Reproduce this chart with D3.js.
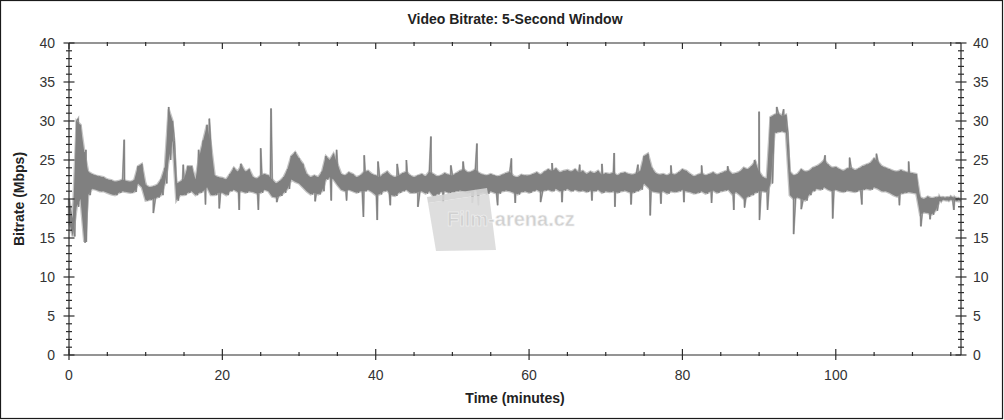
<!DOCTYPE html>
<html><head><meta charset="utf-8">
<script src="https://cdn.jsdelivr.net/npm/d3@7"></script>
<style>
html,body{margin:0;padding:0;background:#fff;}
svg{display:block;font-family:"Liberation Sans",Arial,sans-serif;}
</style></head>
<body>
<svg id="chart" width="1004" height="420"></svg>
<script>
// ---- data ----
const title = "Video Bitrate: 5-Second Window";
const xTitle = "Time (minutes)";
const yTitle = "Bitrate (Mbps)";
const xMajorTicks = [0, 20, 40, 60, 80, 100];
const xMinorTicks = [5, 10, 15, 25, 30, 35, 45, 50, 55, 65, 70, 75, 85, 90, 95, 105, 110, 115];
const yMajorTicks = [0, 5, 10, 15, 20, 25, 30, 35, 40];
const xMax = 116.33;
const sampleStart = 0, sampleStep = 0.5; // minutes
// upper envelope of the bitrate band (Mbps), every 0.5 min
const bandHigh = [
 20, 17.5, 30, 29.5, 26, 23.5, 23.2, 23, 22.9, 22.8,
 22.5, 22.4, 22.2, 22.3, 22.5, 22.3, 22.2, 22.4, 24.2, 24.5,
 21.8, 21.5, 21.6, 21.8, 22.5, 24, 31.5, 30, 22, 22.2,
 22.6, 24.2, 24.2, 22.5, 25.5, 27.5, 29.5, 27, 23, 22.8,
 22.7, 22.5, 23.2, 24, 23.5, 24.3, 23.5, 23.8, 22.8, 22.6,
 23, 23.2, 23, 22.5, 22, 22.3, 22.8, 23.8, 25.5, 26,
 25.2, 24.5, 23.2, 22.8, 23, 22.8, 23.5, 25.5, 25, 25.8,
 24.5, 23.2, 23, 23.4, 23.2, 22.8, 23, 23.5, 23.6, 23.2,
 23, 22.8, 23.2, 23.5, 23, 22.8, 23, 23.3, 23.5, 23,
 22.8, 23, 23.2, 22.9, 23.5, 23.2, 22.9, 23, 23.3, 23.1,
 23, 23.3, 23.6, 23.8, 23.4, 23.5, 23.8, 23.3, 23.1, 23,
 23.2, 23, 22.9, 23.1, 23.3, 23.5, 22.9, 22.8, 23.1, 23,
 23, 23.2, 23.4, 23.1, 23.5, 23.8, 23.6, 23.9, 23.4, 23.6,
 23.7, 23.5, 23.8, 23.4, 23.6, 23.2, 23.5, 23.3, 23.6, 23.1,
 23.3, 23.2, 23.4, 23, 23.3, 23.4, 23.2, 23.1, 23.3, 23.6,
 25.5, 25.8, 24, 23.3, 23.1, 23.2, 23, 23.3, 23.1, 23.4,
 23.8, 23.6, 23.2, 22.9, 23.1, 23.3, 23, 23.2, 23.4, 23.1,
 23.3, 23.5, 23.7, 23.2, 23.3, 23.5, 24, 23.8, 24.2, 24.8,
 23.5, 22.8, 22.6, 30.5, 30.8, 31, 30.6, 30.8, 23.5, 23,
 23.2, 23.8, 23.5, 23.6, 24, 24.2, 24.5, 25, 24.4, 24,
 24.1, 23.8, 23.6, 23.9, 24, 23.7, 23.9, 24.2, 24.4, 24.6,
 25.2, 24.8, 24.2, 24, 23.8, 23.6, 23.5, 23.7, 23.5, 23.4,
 23.3, 23.2, 20.2, 20, 20.3, 20.1, 20.2, 20.3, 20.2, 20.2,
 20.3, 20.2, 20.1
];
// lower envelope of the bitrate band (Mbps), every 0.5 min
const bandLow = [
 17, 15.2, 19, 20, 14.5, 20.5, 21.3, 21.2, 21, 21,
 20.8, 20.6, 20.5, 20.8, 21, 20.9, 20.8, 20.9, 22, 21.5,
 19.8, 19.9, 20, 20.2, 20.5, 22, 25, 27.5, 19.8, 20.5,
 20.5, 20.8, 21, 20.5, 20.8, 21, 21.5, 20.5, 20.5, 20.8,
 20.8, 20.5, 21, 21.2, 20.9, 21, 20.8, 21, 20.9, 20.7,
 20.8, 21.2, 21, 20.3, 20.2, 20.4, 20.8, 21.3, 22.5, 22.2,
 22, 21.5, 21, 20.6, 20.8, 20.6, 21, 22.5, 22.8, 22.5,
 21.8, 21.2, 21, 21.2, 21, 20.8, 21, 21, 21.2, 20.9,
 20.5, 20.6, 21, 21.1, 20.5, 20.4, 20.8, 21, 21.2, 20.8,
 20.8, 20.9, 21, 20.7, 21, 20.4, 20.6, 20.9, 21, 20.8,
 20.9, 21, 21.1, 21, 20.8, 21, 21.2, 20.8, 20.9, 20.7,
 21, 20.8, 20.7, 21, 21.1, 21, 20.8, 20.6, 20.9, 21,
 20.8, 21, 21.2, 20.9, 21.1, 21.2, 21, 21.3, 21, 21.1,
 21.3, 21, 21.2, 21, 21.1, 20.9, 21.1, 21, 21.2, 20.8,
 21, 20.9, 21, 20.8, 21, 21.1, 20.9, 20.8, 21, 21.2,
 22, 21.5, 21, 20.9, 20.8, 21, 20.7, 21, 20.9, 21,
 21.2, 21, 20.9, 20.7, 20.8, 21, 20.7, 20.9, 21.1, 20.8,
 21, 21.1, 21.2, 20.6, 20.9, 20.5, 20, 20.3, 20.5, 20.8,
 21, 21, 20.9, 22, 28.5, 28.6, 28.7, 28.5, 20.5, 20,
 20.2, 20, 19.8, 20.5, 21, 21.3, 21.2, 21.5, 21.2, 21,
 21.2, 21, 20.9, 21.1, 21, 20.9, 21.1, 21.2, 21.3, 21.2,
 21.5, 21.3, 21, 21, 20.8, 20.5, 20.3, 20.7, 20.8, 20.9,
 20.8, 20.7, 18, 18.3, 18.2, 18, 18.5, 19.7, 19.9, 19.8,
 19.9, 19.8, 19.7
];
// narrow spikes [minute, Mbps]
const spikeTimes = [1.2, 2.1, 2.2, 7.2, 11.0, 13.0, 14.9, 16.9, 17.8, 18.3, 19.6, 22.2, 22.4, 24.7, 25.0, 26.35, 27.1,
 32.1, 34.2, 34.9, 36.2, 38.4, 38.5, 40.2, 40.3, 41.9, 42.8, 44.0, 45.5, 47.2, 48.8, 49.8, 51.4, 52.6, 53.2, 53.4,
 55.9, 57.7, 58.2, 61.5, 63.0, 64.3, 66.6, 68.2, 69.5, 71.1, 71.2, 73.3, 74.2, 75.8, 77.2, 78.5, 80.2, 82.5, 83.8,
 85.9, 86.7, 88.1, 89.4, 90.0, 90.05, 91.1, 92.3, 93.2, 94.5, 95.5, 98.6, 99.6, 101.8, 103.4, 105.3, 108.3, 109.5,
 111.1, 112.3, 115.4];
const spikeValues = [30.3, 14.4, 26.3, 27.6, 18.2, 31.8, 24.4, 26.3, 19.3, 30.3, 18.8, 18.6, 24.5, 18.6, 26.5, 31.6, 19.6,
 19.7, 19.8, 26.3, 19.8, 17.7, 25.6, 17.3, 24.8, 19.2, 24.5, 25.0, 19.0, 28.0, 19.6, 24.3, 24.8, 19.5, 27.1, 19.2,
 19.2, 25.2, 19.5, 19.6, 24.6, 19.6, 24.4, 19.8, 24.5, 25.9, 19.0, 19.3, 24.4, 17.9, 19.4, 24.3, 19.6, 24.3, 19.5,
 24.2, 18.6, 18.9, 25.0, 31.2, 17.3, 18.6, 31.8, 31.5, 15.5, 18.7, 25.6, 17.5, 25.3, 19.3, 25.8, 19.2, 24.8,
 16.5, 17.4, 18.6];

// ---- layout ----
const W = 1004, H = 420;
const L = 69, R = 961, T = 43, B = 355;
const svg = d3.select("#chart");
const x = d3.scaleLinear().domain([0, xMax]).range([L, R]);
const y = d3.scaleLinear().domain([0, 40]).range([B, T]);
const axisColor = "#2b2b2b", textColor = "#333", dataColor = "#808080";

// outer frame
svg.append("rect").attr("x", 0.5).attr("y", 0.5).attr("width", W - 2).attr("height", H - 2)
  .attr("fill", "#fff").attr("stroke", "#1a1a1a").attr("stroke-width", 1.2);

// data points
const samples = bandHigh.map((h, i) => ({t: sampleStart + i * sampleStep, hi: h, lo: bandLow[i]}));
const zig = [];
samples.forEach(s => { zig.push({t: s.t, v: s.hi}); zig.push({t: s.t + sampleStep / 2, v: s.lo}); });
spikeTimes.forEach((t, i) => zig.push({t: t, v: spikeValues[i]}));
zig.sort((a, b) => a.t - b.t);

const plot = svg.append("g");
const area = d3.area().x(d => x(d.t)).y0(d => y(d.lo)).y1(d => y(d.hi));
plot.append("path").datum(samples).attr("d", area)
  .attr("fill", "none").attr("stroke", "#c4c4c4").attr("stroke-width", 2.5);
plot.append("path").datum(zig)
  .attr("d", d3.line().x(d => x(d.t)).y(d => y(d.v)))
  .attr("fill", "none").attr("stroke", "#b0b0b0").attr("stroke-width", 2);
plot.append("path").datum(samples).attr("d", area).attr("fill", dataColor);
plot.append("path").datum(zig)
  .attr("d", d3.line().x(d => x(d.t)).y(d => y(d.v)))
  .attr("fill", "none").attr("stroke", dataColor).attr("stroke-width", 1);

// watermark (drawn over the data, as in the source)
const wm = svg.append("g").attr("class", "watermark").attr("opacity", 0.92);
wm.append("path").attr("d", "M428,203 L489,194 L496,250 L436,251 Z").attr("fill", "#dcdcdc");
wm.append("path").attr("d", "M427,197 L487,188 L488,194 L428,203 Z").attr("fill", "#d4d4d4");
wm.append("text").attr("x", 447).attr("y", 226).attr("font-size", 20).attr("font-weight", "bold")
  .attr("fill", "#cdcdcd").attr("stroke", "#f4f4f4").attr("stroke-width", 0.5).text("Film-arena.cz");

// axes lines
const ax = svg.append("g").attr("stroke", axisColor).attr("stroke-width", 1.2).attr("fill", "none");
ax.append("line").attr("x1", L).attr("x2", R).attr("y1", T).attr("y2", T);
ax.append("line").attr("x1", L).attr("x2", R).attr("y1", B).attr("y2", B);
ax.append("line").attr("x1", L).attr("x2", L).attr("y1", T).attr("y2", B);
ax.append("line").attr("x1", R).attr("x2", R).attr("y1", T).attr("y2", B);

// y ticks (both sides)
const yMinor = d3.range(0, 41).filter(v => v % 5 !== 0);
[L, R].forEach(ax0 => {
  ax.selectAll(null).data(yMajorTicks).enter().append("line")
    .attr("x1", ax0 - 5.5).attr("x2", ax0 + 5.5).attr("y1", d => y(d)).attr("y2", d => y(d));
  ax.selectAll(null).data(yMinor).enter().append("line")
    .attr("x1", ax0 - 3).attr("x2", ax0 + 3).attr("y1", d => y(d)).attr("y2", d => y(d));
});
// x ticks
ax.selectAll(null).data(xMajorTicks).enter().append("line")
  .attr("x1", d => x(d)).attr("x2", d => x(d)).attr("y1", B - 6).attr("y2", B + 5);
ax.selectAll(null).data(xMinorTicks).enter().append("line")
  .attr("x1", d => x(d)).attr("x2", d => x(d)).attr("y1", B - 3).attr("y2", B + 1);
ax.selectAll(null).data(xMajorTicks).enter().append("line")
  .attr("x1", d => x(d)).attr("x2", d => x(d)).attr("y1", T).attr("y2", T + 6);
ax.selectAll(null).data(xMinorTicks).enter().append("line")
  .attr("x1", d => x(d)).attr("x2", d => x(d)).attr("y1", T - 1).attr("y2", T + 3);

// tick labels
const lab = svg.append("g").attr("font-size", 14).attr("fill", textColor);
lab.selectAll(null).data(yMajorTicks).enter().append("text")
  .attr("x", 55).attr("y", d => y(d)).attr("dy", "0.36em").attr("text-anchor", "end").text(d => d);
lab.selectAll(null).data(yMajorTicks).enter().append("text")
  .attr("x", 973).attr("y", d => y(d)).attr("dy", "0.36em").attr("text-anchor", "start").text(d => d);
lab.selectAll(null).data(xMajorTicks).enter().append("text")
  .attr("x", d => x(d)).attr("y", 380).attr("text-anchor", "middle").text(d => d);

// titles
svg.append("text").attr("x", (L + R) / 2).attr("y", 24).attr("text-anchor", "middle")
  .attr("font-size", 14).attr("font-weight", "bold").attr("fill", "#222").text(title);
svg.append("text").attr("x", (L + R) / 2).attr("y", 403).attr("text-anchor", "middle")
  .attr("font-size", 14).attr("font-weight", "bold").attr("fill", "#222").text(xTitle);
svg.append("text").attr("transform", `translate(24,${(T + B) / 2}) rotate(-90)`).attr("text-anchor", "middle")
  .attr("font-size", 14).attr("font-weight", "bold").attr("fill", "#222").text(yTitle);
</script>
</body></html>
